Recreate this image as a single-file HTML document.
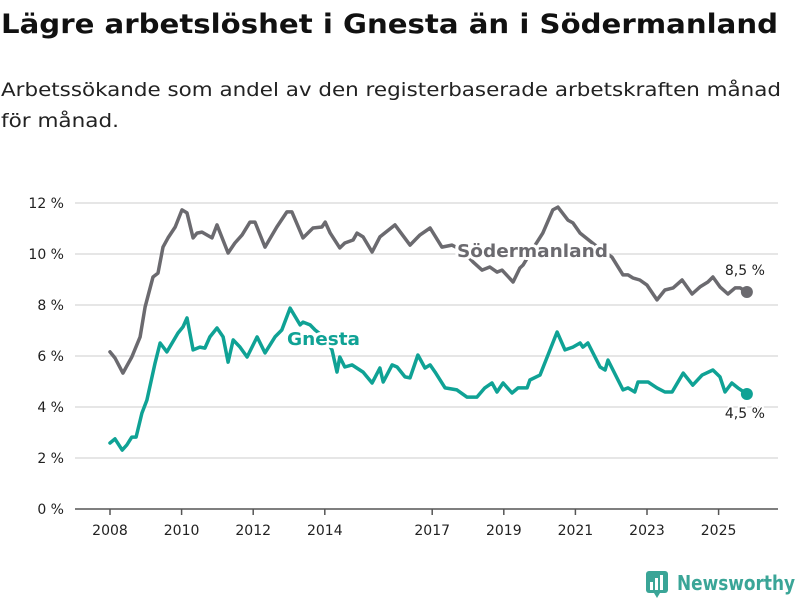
<!DOCTYPE html>
<html><head><meta charset="utf-8"><style>
body{margin:0;background:#fff;width:800px;height:600px;overflow:hidden}
svg{display:block;font-family:"DejaVu Sans","Liberation Sans",sans-serif}
</style></head><body>
<svg id="chart" width="800" height="600">
<text x="1" y="33" font-size="27" font-weight="bold" fill="#111" textLength="777" lengthAdjust="spacingAndGlyphs">Lägre arbetslöshet i Gnesta än i Södermanland</text>
<text x="1" y="96" font-size="19" fill="#222" textLength="780" lengthAdjust="spacingAndGlyphs">Arbetssökande som andel av den registerbaserade arbetskraften månad</text>
<text x="1" y="127" font-size="19" fill="#222" textLength="118" lengthAdjust="spacingAndGlyphs">för månad.</text>
<g id="grid"></g><g id="xaxis"></g><g id="series"></g><g id="labels"></g>
<g>
<rect x="646" y="571" width="22" height="22" rx="3" fill="#3aa597"/>
<rect x="650" y="582" width="3" height="8" fill="#fff"/><rect x="655" y="578" width="3" height="12" fill="#fff"/><rect x="660" y="575" width="3" height="15" fill="#fff"/>
<path d="M654 593 L657 598 L660 593 Z" fill="#3aa597"/>
<text x="677" y="590" font-size="20" font-weight="bold" fill="#3aa597" textLength="118" lengthAdjust="spacingAndGlyphs">Newsworthy</text>
</g>
</svg>
<script>
const yTicks=[0,2,4,6,8,10,12];
const xTickYears=[2008,2010,2012,2014,2017,2019,2021,2023,2025];
const sodYears=[2008.00,2008.14,2008.36,2008.61,2008.84,2008.98,2009.20,2009.34,2009.48,2009.62,2009.82,2010.01,2010.15,2010.32,2010.43,2010.57,2010.85,2010.99,2011.30,2011.49,2011.69,2011.91,2012.05,2012.33,2012.66,2012.94,2013.08,2013.39,2013.67,2013.92,2014.01,2014.15,2014.42,2014.56,2014.79,2014.90,2015.07,2015.32,2015.54,2015.96,2016.38,2016.66,2016.94,2017.27,2017.55,2017.83,2018.14,2018.39,2018.61,2018.81,2018.95,2019.26,2019.45,2019.54,2019.79,2020.09,2020.37,2020.51,2020.79,2020.93,2021.13,2021.55,2022.02,2022.33,2022.47,2022.61,2022.80,2023.00,2023.28,2023.50,2023.73,2023.98,2024.26,2024.48,2024.70,2024.84,2025.04,2025.26,2025.46,2025.60,2025.79];
const sodValues=[6.16,5.92,5.33,5.96,6.75,7.92,9.10,9.25,10.27,10.63,11.06,11.73,11.61,10.63,10.82,10.86,10.63,11.14,10.04,10.43,10.75,11.25,11.25,10.27,11.06,11.65,11.65,10.63,11.02,11.06,11.25,10.82,10.24,10.43,10.55,10.82,10.67,10.08,10.67,11.14,10.35,10.75,11.02,10.27,10.35,10.15,9.69,9.37,9.49,9.29,9.37,8.90,9.45,9.57,10.16,10.82,11.73,11.84,11.33,11.22,10.82,10.35,9.88,9.18,9.18,9.06,8.98,8.78,8.20,8.59,8.67,8.98,8.43,8.71,8.90,9.10,8.71,8.43,8.67,8.67,8.51];
const gnYears=[2008.00,2008.14,2008.34,2008.47,2008.61,2008.73,2008.89,2009.03,2009.26,2009.40,2009.59,2009.90,2010.04,2010.15,2010.32,2010.51,2010.65,2010.79,2010.99,2011.16,2011.30,2011.44,2011.63,2011.83,2012.11,2012.33,2012.61,2012.80,2013.03,2013.31,2013.39,2013.59,2013.73,2014.01,2014.20,2014.34,2014.42,2014.56,2014.76,2015.07,2015.32,2015.54,2015.63,2015.88,2016.02,2016.24,2016.38,2016.60,2016.80,2016.94,2017.08,2017.36,2017.69,2017.97,2018.25,2018.47,2018.67,2018.81,2018.98,2019.23,2019.40,2019.65,2019.73,2020.01,2020.49,2020.71,2020.93,2021.13,2021.21,2021.35,2021.69,2021.83,2021.91,2022.33,2022.47,2022.66,2022.75,2023.03,2023.28,2023.50,2023.70,2024.01,2024.28,2024.54,2024.84,2025.04,2025.18,2025.37,2025.54,2025.79];
const gnValues=[2.59,2.75,2.31,2.51,2.82,2.82,3.76,4.27,5.73,6.51,6.16,6.90,7.14,7.49,6.24,6.35,6.31,6.75,7.10,6.75,5.76,6.63,6.35,5.96,6.75,6.12,6.75,7.02,7.88,7.22,7.33,7.22,7.02,6.71,6.24,5.37,5.96,5.57,5.65,5.37,4.94,5.53,4.98,5.65,5.57,5.18,5.14,6.04,5.53,5.65,5.37,4.75,4.67,4.39,4.39,4.75,4.94,4.59,4.94,4.55,4.75,4.75,5.06,5.25,6.94,6.24,6.35,6.51,6.35,6.51,5.57,5.45,5.84,4.67,4.75,4.59,4.98,4.98,4.75,4.59,4.59,5.33,4.86,5.25,5.45,5.18,4.59,4.94,4.75,4.51];
const sodLast="8,5 %", gnLast="4,5 %";

const NS="http://www.w3.org/2000/svg";
const X=y=>110+(y-2008)*35.8;
const Y=v=>509-v*25.5;
function mk(tag,attrs,parent,txt){const e=document.createElementNS(NS,tag);for(const k in attrs)e.setAttribute(k,attrs[k]);if(txt!==undefined)e.textContent=txt;parent.appendChild(e);return e;}
const grid=document.getElementById('grid'),xa=document.getElementById('xaxis'),ser=document.getElementById('series'),lab=document.getElementById('labels');
yTicks.forEach(t=>{
 const l=mk('line',{x1:75,x2:778,y1:Y(t),y2:Y(t),stroke:t===0?'#555':'#ddd','stroke-width':1.5},grid);
 
 
 const tx=mk('text',{x:64,y:Y(t)+5,'text-anchor':'end','font-size':14,fill:'#222'},grid,t+' %');
 
 
});
xTickYears.forEach(yr=>{
 const l=mk('line',{x1:X(yr),x2:X(yr),y1:509,y2:515,stroke:'#555','stroke-width':1.5},xa);
 
 
 const tx=mk('text',{x:X(yr),y:535,'text-anchor':'middle','font-size':14,fill:'#222'},xa,String(yr));
 
 
});
function line(years,vals,color,name){
 const d=years.map((y,i)=>(i?'L':'M')+X(y).toFixed(1)+' '+Y(vals[i]).toFixed(1)).join(' ');
 const p=mk('path',{d:d,fill:'none',stroke:color,'stroke-width':3.5,'stroke-linejoin':'round','stroke-linecap':'round'},ser);
 
 
 const n=years.length-1;
 const c=mk('circle',{cx:X(years[n]),cy:Y(vals[n]),r:6,fill:color},ser);
 
 
}
line(sodYears,sodValues,'#6b6a6f','sodermanland');
line(gnYears,gnValues,'#0fa295','gnesta');
function label(x,y,txt,color,size,bold,name,len){
 const a={x:x,y:y,'font-size':size,'font-weight':bold?'bold':'normal',fill:color,stroke:'#fff','stroke-width':bold?6:4,'paint-order':'stroke','stroke-linejoin':'round'};
 if(len){a.textLength=len;a.lengthAdjust='spacingAndGlyphs';}
 const t=mk('text',a,lab,txt);
 
 
}
label(457,257,'Södermanland','#6b6a6f',18,true,'sodermanland-label',151);
label(287,345,'Gnesta','#0fa295',18,true,'gnesta-label',73);
const sn=sodYears.length-1,gn=gnYears.length-1;
label(X(sodYears[sn])-22,Y(sodValues[sn])-17,sodLast,'#222',14,false,'sodermanland-last-value');
label(X(gnYears[gn])-22,Y(gnValues[gn])+24,gnLast,'#222',14,false,'gnesta-last-value');
</script>
</body></html>
